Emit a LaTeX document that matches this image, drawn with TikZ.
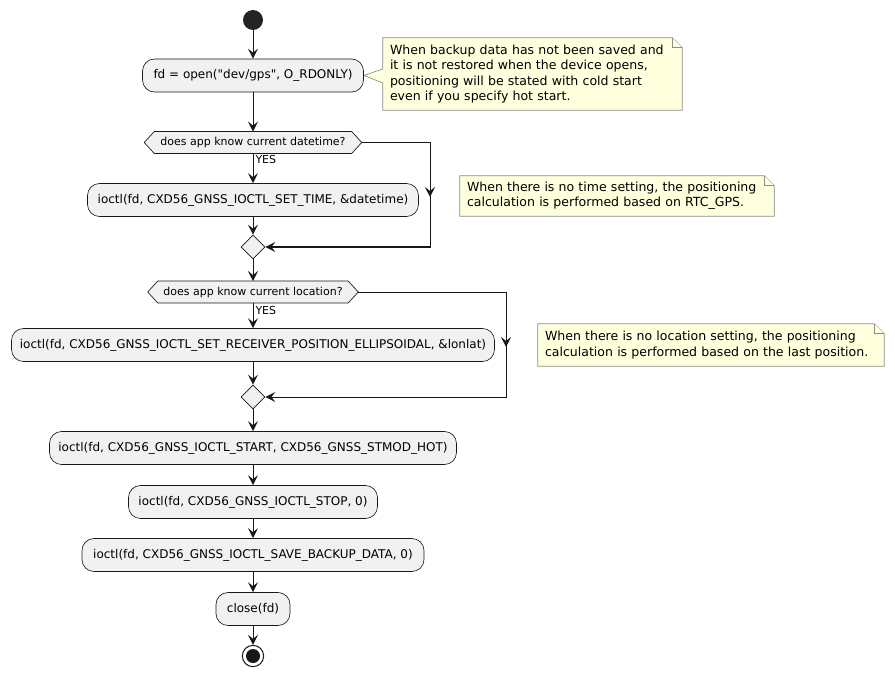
\documentclass[tikz,border=0pt]{standalone}
\usepackage{fontspec}
\setmainfont{DejaVu Sans}[Ligatures=TeXOff]
\usetikzlibrary{arrows.meta,calc,backgrounds,shapes.geometric}
\definecolor{lc}{HTML}{181818}
\definecolor{af}{HTML}{F1F1F1}
\definecolor{nf}{HTML}{FEFFDD}
\definecolor{nl}{HTML}{8C8C8C}
\newcommand{\notefont}{\fontsize{9.4}{11.5}\selectfont\hyphenpenalty 10000\relax}
\begin{document}
\begin{tikzpicture}[x=0.75pt,y=-0.75pt,
 act/.style={draw=lc, fill=af, rounded corners=9pt, line width=0.5pt, font=\fontsize{9}{11}\selectfont, inner xsep=3pt, inner ysep=0pt, minimum height=24.75pt},
 hexn/.style={font=\fontsize{8.25}{10}\selectfont, inner sep=0pt, minimum height=16pt},
 hexshape/.style={draw=lc, fill=af, line width=0.5pt},
 flow/.style={draw=lc, line width=0.75pt, -{Stealth[length=7.5pt,width=7.5pt,inset=3pt]}},
 notet/.style={font=\notefont, inner xsep=0pt, inner ysep=0pt, align=left},
 noteshape/.style={draw=nl, fill=nf, line width=0.5pt},
 merge/.style={diamond, draw=lc, fill=af, line width=0.5pt, minimum width=18pt, minimum height=18pt, inner sep=0pt},
 yes/.style={font=\fontsize{8.25}{10}\selectfont, anchor=west, inner xsep=1.5pt},
 startn/.style={circle, fill=lc!95, minimum size=15pt, inner sep=0pt},
 endn/.style={circle, draw=lc, fill=white, line width=0.75pt, minimum size=16pt, inner sep=0pt}
]
\useasboundingbox (0,0) rectangle (895,677);

% nodes
\node[startn] (start) at (253,20) {};
\node[act, minimum width=165.75pt] (b1) at (253,75.5) {fd = open("dev/gps", O\_RDONLY)};
\node[hexn, minimum width=147.75pt] (d1) at (253,142.5) {does app know current datetime?};
\node[act, minimum width=248.25pt] (b2) at (253,200) {ioctl(fd, CXD56\_GNSS\_IOCTL\_SET\_TIME, \&datetime)};
\node[merge] (m1) at (253,247) {};
\node[hexn, minimum width=142.5pt] (d2) at (253,292) {does app know current location?};
\node[act, minimum width=362.25pt] (b3) at (253,345) {ioctl(fd, CXD56\_GNSS\_IOCTL\_SET\_RECEIVER\_POSITION\_ELLIPSOIDAL, \&lonlat)};
\node[merge] (m2) at (253,397) {};
\node[act, minimum width=305.25pt] (b4) at (253,448) {ioctl(fd, CXD56\_GNSS\_IOCTL\_START, CXD56\_GNSS\_STMOD\_HOT)};
\node[act, minimum width=186.75pt] (b5) at (253,502) {ioctl(fd, CXD56\_GNSS\_IOCTL\_STOP, 0)};
\node[act, minimum width=256.5pt] (b6) at (253,555) {ioctl(fd, CXD56\_GNSS\_IOCTL\_SAVE\_BACKUP\_DATA, 0)};
\node[act, minimum width=55.5pt] (b7) at (253,609) {close(fd)};
\node[endn] (end) at (253,656) {};
\fill[lc] (end.center) circle (5.25pt);

% notes
\node[notet, text width=213.75pt, minimum width=224.25pt, minimum height=54pt] (n1) at (532.5,74)
 {When backup data has not been saved and\\it is not restored when the device opens,\\positioning will be stated with cold start\\even if you specify hot start.};
\node[notet, text width=225pt, minimum width=235.5pt, minimum height=30pt] (n2) at (617,196)
 {When there is no time setting, the positioning\\calculation is performed based on RTC\_GPS.};
\node[notet, text width=249pt, minimum width=259.5pt, minimum height=31.5pt] (n3) at (711,345)
 {When there is no location setting, the positioning\\calculation is performed based on the last position.};

\begin{scope}[on background layer]
 \draw[hexshape] (d1.north west) -- (d1.north east) -- ($(d1.east)+(10,0)$) -- (d1.south east) -- (d1.south west) -- ($(d1.west)+(-10,0)$) -- cycle;
 \draw[hexshape] (d2.north west) -- (d2.north east) -- ($(d2.east)+(10,0)$) -- (d2.south east) -- (d2.south west) -- ($(d2.west)+(-10,0)$) -- cycle;
 \draw[noteshape] (n1.north west) -- ($(n1.north east)+(-10,0)$) -- ($(n1.north east)+(0,10)$) -- (n1.south east) -- (n1.south west) -- ($(n1.west)+(0,9)$) -- (b1.east) -- ($(n1.west)+(0,-5)$) -- cycle;
 \draw[noteshape] ($(n1.north east)+(-10,0)$) -- ($(n1.north east)+(-10,10)$) -- ($(n1.north east)+(0,10)$);
 \draw[noteshape] (n2.north west) -- ($(n2.north east)+(-10,0)$) -- ($(n2.north east)+(0,10)$) -- (n2.south east) -- (n2.south west) -- cycle;
 \draw[noteshape] ($(n2.north east)+(-10,0)$) -- ($(n2.north east)+(-10,10)$) -- ($(n2.north east)+(0,10)$);
 \draw[noteshape] (n3.north west) -- ($(n3.north east)+(-10,0)$) -- ($(n3.north east)+(0,10)$) -- (n3.south east) -- (n3.south west) -- cycle;
 \draw[noteshape] ($(n3.north east)+(-10,0)$) -- ($(n3.north east)+(-10,10)$) -- ($(n3.north east)+(0,10)$);
\end{scope}

% coordinates for branches
\coordinate (d1tip) at ($(d1.east)+(10,0)$);
\coordinate (r1a) at (430,142.5);
\coordinate (r1m) at (430,197);
\coordinate (r1b) at (430,247);
\coordinate (d2tip) at ($(d2.east)+(10,0)$);
\coordinate (r2a) at (506,292);
\coordinate (r2m) at (506,347);
\coordinate (r2b) at (506,397);

% connectors
\draw[flow] (start) -- (b1);
\draw[flow] (b1) -- (d1);
\draw[flow] (d1.south) -- node[yes, pos=0.22] {YES} (b2.north);
\draw[flow] (b2) -- (m1);
\draw[flow] (d1tip) -- (r1a) -- (r1b) -- (m1.east);
\draw[flow] (r1a) -- (r1m);
\draw[flow] (m1) -- (d2);
\draw[flow] (d2.south) -- node[yes, pos=0.28] {YES} (b3.north);
\draw[flow] (b3) -- (m2);
\draw[flow] (d2tip) -- (r2a) -- (r2b) -- (m2.east);
\draw[flow] (r2a) -- (r2m);
\draw[flow] (m2) -- (b4);
\draw[flow] (b4) -- (b5);
\draw[flow] (b5) -- (b6);
\draw[flow] (b6) -- (b7);
\draw[flow] (b7) -- (end);
\end{tikzpicture}
\end{document}
